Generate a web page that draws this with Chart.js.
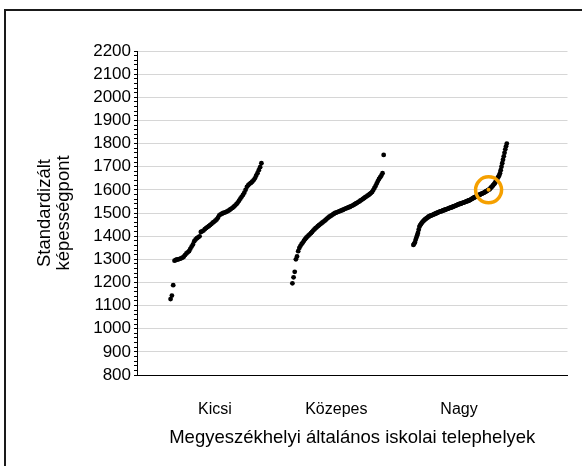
<!DOCTYPE html>
<html>
<head>
<meta charset="utf-8">
<script src="https://cdn.jsdelivr.net/npm/chart.js@4/dist/chart.umd.min.js"></script>
<style>
  html, body { margin: 0; background: #fff; overflow: hidden; width: 584px; height: 466px; }
  #frame { position: absolute; left: 4px; top: 9px; width: 576px; height: 460px; border: 2px solid #1a1a1a; border-right: none; border-bottom: none; }
  #chart { position: absolute; left: 0; top: 0; }
</style>
</head>
<body>
<div id="frame"></div>
<canvas id="chart" width="584" height="466"></canvas>
<script>
// school size groups and where their labels sit on the 0-100 x scale
const categories = ['Kicsi', 'Közepes', 'Nagy'];
const labelPos = [18.1, 46.3, 74.8];

// standardized scores per group, sorted
const kicsi = [1128,1143,1188,1294,1297,1299,1300,1302,1304,1307,1311,1318,1325,1330,1335,1345,1355,1364,1378,1386,
  1391,1395,1399,1418,1421,1424,1430,1435,1439,1443,1448,1452,1458,1462,1467,1472,1480,1490,1494,1497,
  1500,1502,1504,1507,1510,1514,1518,1522,1527,1532,1538,1545,1553,1562,1570,1578,1588,1600,1613,1620,
  1626,1630,1635,1641,1650,1661,1672,1685,1698,1715];
const kozepes = [1196,1222,1246,1300,1312,1335,1349,1358,1366,1372,1380,1387,1393,1398,1403,1408,1413,1418,1424,1429,
  1434,1438,1443,1447,1451,1455,1459,1463,1467,1471,1476,1480,1484,1487,1490,1494,1497,1500,1502,1504,
  1506,1508,1510,1512,1514,1517,1519,1521,1523,1525,1527,1530,1532,1535,1538,1541,1544,1547,1550,1554,
  1557,1561,1564,1568,1571,1575,1578,1582,1586,1591,1599,1608,1617,1628,1638,1647,1655,1662,1672,1751];
const nagy = [1362,1367,1373,1384,1394,1404,1414,1428,1441,1447,
  1452,1457,1461,1465,1468,1471,1474,1476,1479,1481,
  1484,1486,1487,1489,1490,1491,1493,1494,1496,1497,
  1499,1500,1502,1503,1505,1506,1507,1508,1509,1511,
  1512,1513,1514,1516,1517,1518,1519,1521,1522,1523,
  1524,1525,1527,1528,1530,1531,1532,1534,1535,1537,
  1538,1539,1540,1541,1543,1544,1545,1546,1547,1549,
  1550,1551,1553,1554,1555,1557,1559,1561,1563,1565,
  1567,1568,1570,1572,1574,1575,1577,1579,1580,1582,
  1583,1585,1586,1588,1590,1592,1594,1596,1598,1600,
  1602,1605,1609,1612,1616,1620,1624,1628,1633,1638,
  1645,1652,1657,1662,1672,1685,1700,1715,1730,1745,
  1760,1775,1788,1800];
const highlightIndex = 99; // the circled school in Nagy

const yMin = 800, yMax = 2200, yMajor = 100, yMinor = 20;

// horizontal span of each group's cloud (layout, % of plot width)
const spans = [[7.8, 28.9], [36.1, 57.3], [64.2, 85.9]];

function spread(values, span) {
  const step = (span[1] - span[0]) / (values.length - 1);
  return values.map((v, i) => ({ x: span[0] + i * step, y: v }));
}

const groups = [kicsi, kozepes, nagy].map((vals, g) => spread(vals, spans[g]));
const hl = groups[2][highlightIndex];

const font = 'Liberation Sans, Arial, sans-serif';

new Chart(document.getElementById('chart'), {
  type: 'scatter',
  data: {
    datasets: [
      { data: [hl], pointRadius: 13, pointBorderWidth: 3.5, pointBorderColor: '#f5a000', pointBackgroundColor: 'rgba(0,0,0,0)' },
      { data: [hl], pointRadius: 2, pointBorderWidth: 0, pointBackgroundColor: '#f5a000' },
      ...groups.map((pts, g) => ({
        label: categories[g],
        data: pts,
        pointRadius: 2.4,
        pointBorderWidth: 0,
        pointBackgroundColor: '#000'
      }))
    ]
  },
  options: {
    responsive: false,
    animation: false,
    layout: { padding: { left: 0, right: 11, top: 51, bottom: 0 } },
    plugins: { legend: { display: false }, tooltip: { enabled: false } },
    scales: {
      x: {
        type: 'linear',
        min: 0,
        max: 100,
        afterBuildTicks: s => { s.ticks = labelPos.map(v => ({ value: v })); },
        afterFit: s => { s.height = 91; s.paddingLeft = 0; s.paddingRight = 0; },
        grid: { display: false, drawTicks: false },
        border: { display: true, color: '#000', width: 1 },
        ticks: {
          autoSkip: false,
          maxRotation: 0,
          padding: 25,
          color: '#000',
          font: { family: font, size: 16 },
          callback: v => categories[labelPos.indexOf(v)]
        },
        title: {
          display: true,
          text: 'Megyeszékhelyi általános iskolai telephelyek',
          color: '#000',
          font: { family: font, size: 18.5 },
          padding: { top: 0, bottom: 17 }
        }
      },
      y: {
        min: yMin,
        max: yMax,
        afterFit: s => { s.width = 137; },
        grid: {
          color: c => c.tick && c.tick.value % yMajor === 0 ? '#d6d6d6' : 'rgba(0,0,0,0)',
          tickColor: '#000',
          tickLength: 3,
          lineWidth: 1
        },
        border: { color: '#000', width: 1 },
        ticks: {
          stepSize: yMinor,
          autoSkip: false,
          padding: 3,
          color: '#000',
          font: { family: font, size: 17 },
          callback: v => v % yMajor === 0 ? v : ''
        },
        title: {
          display: true,
          text: ['Standardizált', 'képességpont'],
          color: '#000',
          font: { family: font, size: 18.5, lineHeight: 1 },
          padding: { top: 36, bottom: 0 }
        }
      }
    }
  }
});
</script>
</body>
</html>
